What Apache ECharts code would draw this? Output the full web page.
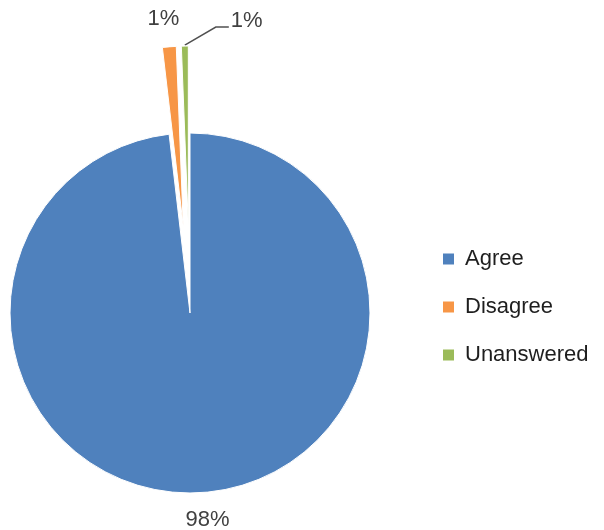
<!DOCTYPE html>
<html>
<head>
<meta charset="utf-8">
<script src="https://cdn.jsdelivr.net/npm/echarts@6/dist/echarts.min.js"></script>
<style>
  html, body { margin: 0; padding: 0; background: #fff; }
  #chart { width: 604px; height: 530px; }
</style>
</head>
<body>
<div id="chart"></div>
<script>
// Survey responses (counts)
const categories = ['Agree', 'Disagree', 'Unanswered'];
const counts = [159, 2, 1];
const colors = ['#4F81BD', '#F79646', '#9BBB59'];
// Slices pulled out of the pie
const exploded = [false, true, true];

const FONT = 'Liberation Sans';
const LABEL_COLOR = '#404040';
const PULL = 87;

const chart = echarts.init(document.getElementById('chart'), null, { renderer: 'canvas' });

chart.setOption({
  animation: false,
  backgroundColor: '#ffffff',
  legend: {
    orient: 'vertical',
    left: 436,
    top: 243,
    itemWidth: 13,
    itemHeight: 13,
    itemGap: 26,
    icon: 'rect',
    selectedMode: false,
    data: categories,
    textStyle: {
      fontFamily: FONT,
      fontSize: 22,
      lineHeight: 22,
      color: '#1e1e1e',
      padding: [0, 0, 0, 5]
    }
  },
  series: [{
    type: 'pie',
    center: [190, 313],
    radius: 180,
    startAngle: 90,
    clockwise: true,
    selectedMode: 'multiple',
    selectedOffset: PULL,
    percentPrecision: 0,
    avoidLabelOverlap: false,
    emphasis: { disabled: true },
    itemStyle: { borderColor: '#ffffff', borderWidth: 1 },
    label: { show: false },
    labelLine: { show: false },
    data: categories.map((name, i) => ({
      name: name,
      value: counts[i],
      selected: exploded[i],
      itemStyle: { color: colors[i] }
    }))
  }]
});

// Data labels placed from the pie's own slice layout
const seriesModel = chart.getModel().getSeriesByIndex(0);
const sliceData = seriesModel.getData();

function outerPoint(i) {
  const l = sliceData.getItemLayout(i);
  const mid = (l.startAngle + l.endAngle) / 2;
  const ux = Math.cos(mid), uy = Math.sin(mid);
  const off = exploded[i] ? PULL : 0;
  return [l.cx + ux * (off + l.r), l.cy + uy * (off + l.r)];
}
function pctText(i) {
  return seriesModel.getDataParams(i).percent + '%';
}
const textStyle = { fontFamily: FONT, fontSize: 22, fill: LABEL_COLOR };

const pA = outerPoint(0), pD = outerPoint(1), pU = outerPoint(2);
chart.setOption({
  graphic: [
    {
      type: 'text', x: pA[0] + 7, y: pA[1] + 16,
      style: Object.assign({ text: pctText(0), align: 'center', verticalAlign: 'top' }, textStyle)
    },
    {
      type: 'text', x: pD[0] - 6, y: pD[1] - 17,
      style: Object.assign({ text: pctText(1), align: 'center', verticalAlign: 'bottom' }, textStyle)
    },
    {
      type: 'polyline',
      shape: { points: [[pU[0], pU[1] - 1], [pU[0] + 31, pU[1] - 19], [pU[0] + 44, pU[1] - 19]] },
      style: { stroke: '#505050', lineWidth: 1.5, fill: null }
    },
    {
      type: 'text', x: pU[0] + 46, y: pU[1] - 25,
      style: Object.assign({ text: pctText(2), align: 'left', verticalAlign: 'middle' }, textStyle)
    }
  ]
});
</script>
</body>
</html>
